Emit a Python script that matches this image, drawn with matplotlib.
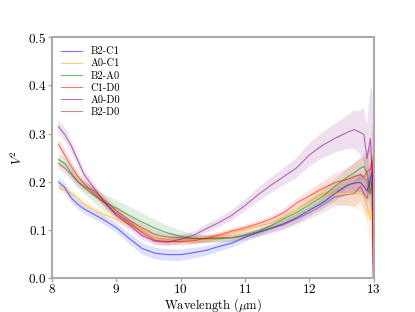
import numpy as np
import matplotlib
matplotlib.use("Agg")
import matplotlib.pyplot as plt

plt.rcParams['font.family'] = 'serif'
plt.rcParams['font.serif'] = ['cmr10', 'DejaVu Serif']
plt.rcParams['mathtext.fontset'] = 'cm'
plt.rcParams['axes.formatter.use_mathtext'] = True

# wavelength grid (micron)
wl = [8.1, 8.2, 8.3, 8.4, 8.5, 8.65, 8.8, 9.0, 9.2, 9.4, 9.6, 9.8, 10.0, 10.2, 10.4,
      10.6, 10.8, 11.0, 11.2, 11.4, 11.6, 11.8, 12.0, 12.2, 12.4, 12.6, 12.7, 12.8,
      12.85, 12.9, 12.95, 12.98, 13.0]

labels = ["B2-C1", "A0-C1", "B2-A0", "C1-D0", "A0-D0", "B2-D0"]
colors = ["blue", "orange", "green", "red", "purple", "brown"]

b2c1 = [0.199, 0.188, 0.166, 0.153, 0.143, 0.132, 0.121, 0.104, 0.082, 0.061, 0.051,
        0.048, 0.048, 0.052, 0.057, 0.065, 0.072, 0.084, 0.094, 0.103, 0.112, 0.124,
        0.140, 0.155, 0.175, 0.193, 0.197, 0.198, 0.190, 0.180, 0.205, 0.220, 0.0]
a0c1 = [0.187, 0.182, 0.176, 0.166, 0.153, 0.142, 0.132, 0.122, 0.111, 0.098, 0.083,
        0.078, 0.078, 0.079, 0.082, 0.087, 0.094, 0.100, 0.107, 0.114, 0.124, 0.140,
        0.158, 0.175, 0.176, 0.178, 0.176, 0.175, 0.170, 0.150, 0.120, 0.180, 0.0]
b2a0 = [0.246, 0.238, 0.218, 0.200, 0.188, 0.172, 0.158, 0.145, 0.130, 0.116, 0.103,
        0.093, 0.086, 0.082, 0.081, 0.081, 0.083, 0.089, 0.096, 0.108, 0.122, 0.135,
        0.152, 0.168, 0.190, 0.210, 0.218, 0.228, 0.232, 0.218, 0.175, 0.200, 0.0]
c1d0 = [0.278, 0.255, 0.232, 0.212, 0.196, 0.175, 0.158, 0.134, 0.115, 0.094, 0.078,
        0.075, 0.075, 0.077, 0.082, 0.089, 0.097, 0.104, 0.112, 0.122, 0.135, 0.155,
        0.170, 0.185, 0.198, 0.205, 0.210, 0.215, 0.208, 0.222, 0.225, 0.245, 0.0]
a0d0 = [0.315, 0.298, 0.275, 0.245, 0.215, 0.187, 0.160, 0.130, 0.110, 0.088, 0.076,
        0.074, 0.080, 0.088, 0.102, 0.115, 0.130, 0.150, 0.172, 0.192, 0.210, 0.228,
        0.255, 0.275, 0.290, 0.303, 0.308, 0.302, 0.298, 0.248, 0.290, 0.220, 0.0]
b2d0 = [0.238, 0.228, 0.215, 0.200, 0.190, 0.181, 0.163, 0.140, 0.120, 0.104, 0.090,
        0.085, 0.083, 0.081, 0.082, 0.083, 0.083, 0.087, 0.094, 0.102, 0.110, 0.122,
        0.135, 0.150, 0.168, 0.173, 0.175, 0.190, 0.175, 0.165, 0.200, 0.190, 0.0]

# 1-sigma half widths of the shaded bands
b2c1_err = [0.010, 0.010, 0.010, 0.010, 0.009, 0.009, 0.009, 0.010, 0.011, 0.012, 0.012,
            0.012, 0.012, 0.011, 0.010, 0.009, 0.008, 0.008, 0.008, 0.008, 0.009, 0.010,
            0.011, 0.012, 0.014, 0.016, 0.018, 0.020, 0.022, 0.025, 0.030, 0.040, 0.050]
a0c1_err = [0.008, 0.008, 0.008, 0.008, 0.008, 0.008, 0.008, 0.008, 0.008, 0.008, 0.008,
            0.008, 0.008, 0.008, 0.008, 0.008, 0.008, 0.008, 0.008, 0.009, 0.010, 0.012,
            0.014, 0.018, 0.022, 0.028, 0.032, 0.036, 0.040, 0.045, 0.050, 0.080, 0.100]
b2a0_err = [0.012, 0.012, 0.012, 0.012, 0.013, 0.015, 0.017, 0.018, 0.019, 0.019, 0.018,
            0.016, 0.013, 0.010, 0.008, 0.007, 0.007, 0.007, 0.007, 0.008, 0.009, 0.010,
            0.012, 0.014, 0.017, 0.020, 0.022, 0.025, 0.028, 0.030, 0.040, 0.060, 0.100]
c1d0_err = [0.012, 0.012, 0.011, 0.010, 0.009, 0.008, 0.008, 0.008, 0.008, 0.008, 0.007,
            0.007, 0.007, 0.007, 0.007, 0.007, 0.007, 0.007, 0.007, 0.008, 0.009, 0.011,
            0.013, 0.016, 0.020, 0.025, 0.030, 0.035, 0.040, 0.045, 0.050, 0.080, 0.100]
a0d0_err = [0.014, 0.014, 0.013, 0.012, 0.011, 0.010, 0.010, 0.010, 0.010, 0.009, 0.008,
            0.008, 0.008, 0.008, 0.009, 0.010, 0.011, 0.012, 0.014, 0.016, 0.018, 0.021,
            0.024, 0.027, 0.030, 0.035, 0.040, 0.045, 0.055, 0.070, 0.100, 0.180, 0.300]
b2d0_err = [0.012, 0.012, 0.011, 0.010, 0.010, 0.010, 0.010, 0.010, 0.010, 0.009, 0.009,
            0.009, 0.008, 0.008, 0.008, 0.008, 0.008, 0.008, 0.008, 0.009, 0.010, 0.011,
            0.012, 0.015, 0.018, 0.022, 0.026, 0.030, 0.035, 0.040, 0.045, 0.070, 0.100]

series = [b2c1, a0c1, b2a0, c1d0, a0d0, b2d0]
errors = [b2c1_err, a0c1_err, b2a0_err, c1d0_err, a0d0_err, b2d0_err]

fig, ax = plt.subplots(figsize=(4.15, 3.12), dpi=100)
x = np.array(wl)
for lab, col, y, e in zip(labels, colors, series, errors):
    y = np.array(y)
    e = np.array(e)
    ax.plot(x, y, color=col, lw=0.8, alpha=0.55, label=lab)
    ax.fill_between(x, y - e, y + e, color=col, alpha=0.12, lw=0)

ax.set_xlim(8, 13)
ax.set_ylim(0, 0.5)
ax.set_xlabel(r'Wavelength ($\mu$m)', fontsize=9)
ax.set_ylabel(r'$V^2$', fontsize=9)
ax.xaxis.set_label_coords(0.5, -0.078)
ax.yaxis.set_label_coords(-0.085, 0.5)
ax.tick_params(labelsize=9.5, color='#aaaaaa', width=1, length=3, pad=1)
for s in ax.spines.values():
    s.set_color('#aaaaaa')
    s.set_linewidth(1.5)
ax.legend(loc='upper left', frameon=False, fontsize=7.5, labelspacing=0.25)
plt.savefig('out.png', dpi=100)
